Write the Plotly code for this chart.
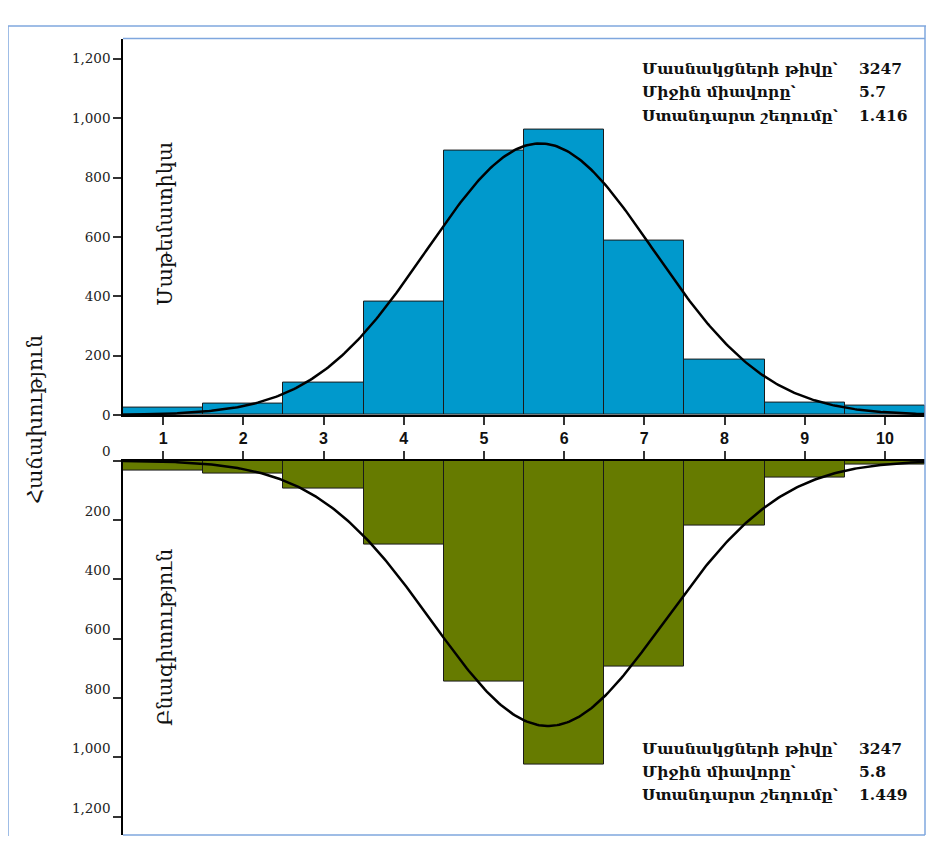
import numpy as np
import plotly.graph_objects as go

# ---- data ----
scores = [1, 2, 3, 4, 5, 6, 7, 8, 9, 10]
math_counts = [24, 38, 108, 383, 890, 962, 586, 186, 41, 30]
science_counts = [33, 45, 93, 284, 746, 1025, 695, 218, 58, 14]
y_ticks = [0, 200, 400, 600, 800, 1000, 1200]

math_n, math_mean, math_sd = 3247, 5.7, 1.416
sci_n, sci_mean, sci_sd = 3247, 5.8, 1.449

stat_labels = ["Մասնակցների թիվը՝", "Միջին միավորը՝", "Ստանդարտ շեղումը՝"]
math_stats = ["3247", "5.7", "1.416"]
sci_stats = ["3247", "5.8", "1.449"]

title_math = "Մաթեմատիկա"
title_sci = "Բնագիտություն"
title_freq = "Հաճախություն"

# ---- geometry (page px -> paper); page body has the default 8px margin ----
OFF = 8
W, H = 918, 836


def px(x):
    return min(1.0, max(0.0, (x - OFF) / W))


def py(y):
    return min(1.0, max(0.0, 1 - (y - OFF) / H))


LEFT, RIGHT = 123, 925
TOP1, BOT1 = 22, 410
TOP2, BOT2 = 457, 843
SCALE = 0.306  # px per count

BLUE = "#0099CC"
OLIVE = "#667B00"
FRAME = "#7FA7DE"

xs = np.linspace(0.5, 10.5, 400)


def normal_curve(n, m, s):
    return n / (s * np.sqrt(2 * np.pi)) * np.exp(-0.5 * ((xs - m) / s) ** 2)


fig = go.Figure()
fig.add_trace(go.Bar(x=scores, y=math_counts, width=1, marker=dict(color=BLUE, line=dict(color="#1a1a1a", width=1)),
                     xaxis="x", yaxis="y", showlegend=False))
fig.add_trace(go.Scatter(x=xs, y=normal_curve(math_n, math_mean, math_sd), mode="lines",
                         line=dict(color="black", width=2.5), xaxis="x", yaxis="y", showlegend=False))
fig.add_trace(go.Bar(x=scores, y=science_counts, width=1, marker=dict(color=OLIVE, line=dict(color="#1a1a1a", width=1)),
                     xaxis="x2", yaxis="y2", showlegend=False))
fig.add_trace(go.Scatter(x=xs, y=normal_curve(sci_n, sci_mean, sci_sd), mode="lines",
                         line=dict(color="black", width=2.5), xaxis="x2", yaxis="y2", showlegend=False))

ytick_text = [f"{v:,}" for v in y_ticks]
tickfont_y = dict(family="DejaVu Serif", size=13.5, color="#222")
tickfont_x = dict(family="Liberation Sans Narrow, Liberation Sans", size=16, color="#111")

fig.update_layout(
    width=W, height=H, margin=dict(l=0, r=0, t=0, b=0),
    paper_bgcolor="white", plot_bgcolor="white", bargap=0,
    xaxis=dict(domain=[px(LEFT), px(RIGHT)], range=[0.5, 10.5], anchor="y",
               tickvals=scores, ticktext=[f"<b>{s}</b>" for s in scores], ticks="outside", ticklen=8,
               tickwidth=1.5, tickcolor="#333", showline=True, linecolor="black", linewidth=2,
               showgrid=False, zeroline=False, tickfont=tickfont_x),
    yaxis=dict(domain=[py(BOT1), py(TOP1)], range=[0, (BOT1 - TOP1) / SCALE], anchor="x",
               tickvals=y_ticks, ticktext=ytick_text, ticks="outside", ticklen=8, tickwidth=1.5,
               tickcolor="#333", showline=True, linecolor="black", linewidth=1.5,
               showgrid=False, zeroline=False, tickfont=tickfont_y),
    xaxis2=dict(domain=[px(LEFT), px(RIGHT)], range=[0.5, 10.5], anchor="y2", side="top",
                tickvals=scores, showticklabels=False, ticks="outside", ticklen=8, tickwidth=1.5,
                tickcolor="#333", showline=True, linecolor="black", linewidth=2,
                showgrid=False, zeroline=False),
    yaxis2=dict(domain=[py(BOT2), py(TOP2)], range=[(BOT2 - TOP2) / SCALE, 0], anchor="x2",
                tickvals=y_ticks, ticktext=ytick_text, ticks="outside", ticklen=8, tickwidth=1.5,
                tickcolor="#333", showline=True, linecolor="black", linewidth=1.5,
                ticklabelshift=9,
                showgrid=False, zeroline=False, tickfont=tickfont_y),
)

shapes = []
# outer frame
shapes.append(dict(type="line", xref="paper", yref="paper", x0=px(8), x1=px(8), y0=py(9), y1=py(852),
                   line=dict(color=FRAME, width=1.5)))
shapes.append(dict(type="line", xref="paper", yref="paper", x0=px(8), x1=px(926), y0=py(9), y1=py(9),
                   line=dict(color=FRAME, width=1.5)))
# plot frame
shapes.append(dict(type="line", xref="paper", yref="paper", x0=px(LEFT), x1=px(RIGHT), y0=py(TOP1), y1=py(TOP1),
                   line=dict(color=FRAME, width=1.5)))
shapes.append(dict(type="line", xref="paper", yref="paper", x0=px(LEFT), x1=px(RIGHT), y0=py(BOT2),
                   y1=py(BOT2), line=dict(color=FRAME, width=1.5)))
shapes.append(dict(type="line", xref="paper", yref="paper", x0=px(RIGHT), x1=px(RIGHT), y0=py(9), y1=py(BOT2),
                   line=dict(color=FRAME, width=1.5)))
fig.update_layout(shapes=shapes)

ann = []
titlefont = dict(family="DejaVu Serif", size=20.5, color="#111")
for txt, xx, yy in ((title_math, 165, 213), (title_sci, 165, 640), (title_freq, 35, 415)):
    ann.append(dict(text=txt, x=px(xx), y=py(yy), xref="paper", yref="paper", textangle=-90,
                    xanchor="center", yanchor="middle", showarrow=False, font=titlefont))

statfont = dict(family="DejaVu Serif", size=15.5, color="#111")
for rows_y, vals in (([53, 77, 101], math_stats), ([754, 777, 801], sci_stats)):
    for yy, lab, val in zip(rows_y, stat_labels, vals):
        ann.append(dict(text=f"<b>{lab}</b>", x=px(640), y=py(yy), xref="paper", yref="paper",
                        xanchor="left", yanchor="middle", showarrow=False, font=statfont))
        ann.append(dict(text=f"<b>{val}</b>", x=px(857), y=py(yy), xref="paper", yref="paper",
                        xanchor="left", yanchor="middle", showarrow=False, font=statfont))
fig.update_layout(annotations=ann)

fig.write_html("out.html", config={"displayModeBar": False})
